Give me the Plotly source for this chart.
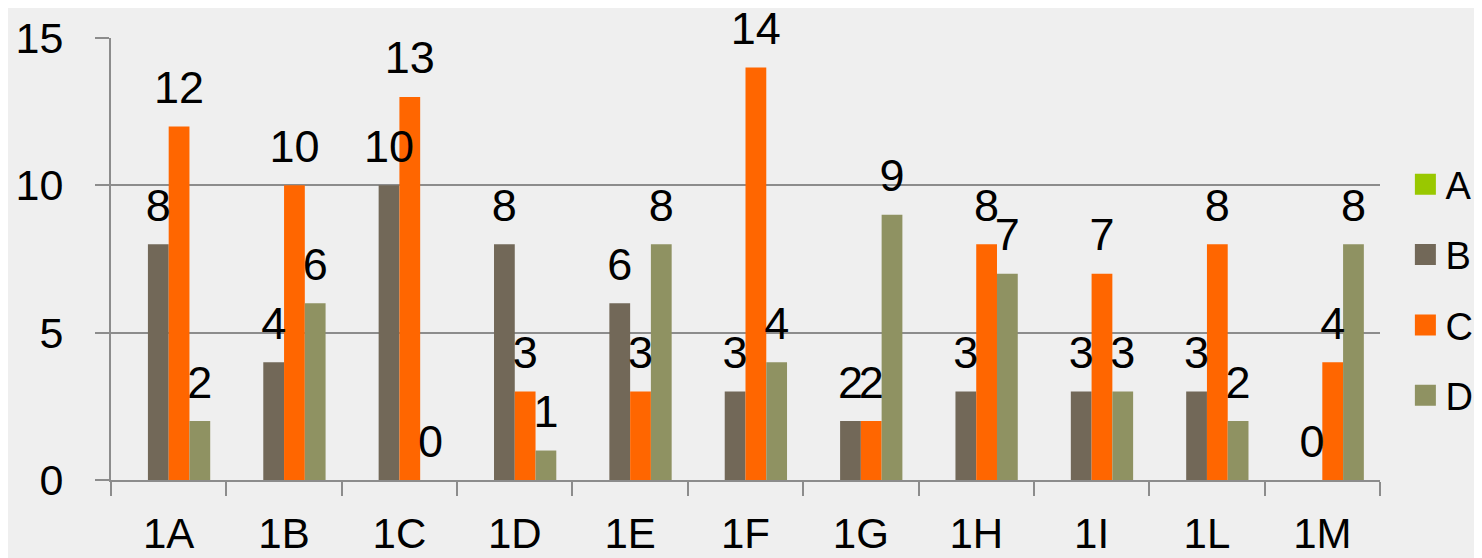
import plotly.graph_objects as go

categories = ["1A", "1B", "1C", "1D", "1E", "1F", "1G", "1H", "1I", "1L", "1M"]
series_names = ["A", "B", "C", "D"]
values_A = [None] * 11
values_B = [8, 4, 10, 8, 6, 3, 2, 3, 3, 3, 0]
values_C = [12, 10, 13, 3, 3, 14, 2, 8, 7, 8, 4]
values_D = [2, 6, 0, 1, 8, 4, 9, 7, 3, 2, 8]
colors = ["#99C800", "#726858", "#FF6600", "#8F9262"]
y_ticks = [0, 5, 10, 15]

FONT = "Liberation Sans, Arial, sans-serif"
GAP = 0.28
fig = go.Figure()
all_vals = [values_A, values_B, values_C, values_D]
for name, vals, col in zip(series_names, all_vals, colors):
    fig.add_trace(go.Bar(
        x=categories, y=vals, name=name, marker_color=col,
        marker_line_width=0, showlegend=False, hoverinfo="skip",
    ))
# value labels (grouped scatter aligned with bar slots)
for name, vals, col in zip(series_names, all_vals, colors):
    fig.add_trace(go.Scatter(
        x=categories, y=vals, mode="markers+text", name=name,
        text=[("" if v is None else str(v)) for v in vals],
        textposition="top center", cliponaxis=False,
        marker=dict(size=18, opacity=0, color=col),
        textfont=dict(size=45, color="black", family=FONT),
        showlegend=False,
    ))
# legend entries
for name, col in zip(series_names, colors):
    fig.add_trace(go.Scatter(
        x=[None], y=[None], mode="markers", name=name,
        marker=dict(symbol="square", size=16, color=col,
                    line=dict(width=5, color=col)),
        xaxis="x2", yaxis="y2", legendgroup=name,
    ))

fig.update_layout(
    width=1474, height=550,
    margin=dict(l=103, r=102, t=30, b=78, autoexpand=False),
    paper_bgcolor="#efefef", plot_bgcolor="#efefef",
    barmode="group", bargap=GAP, bargroupgap=0,
    scattermode="group", scattergap=GAP,
    font=dict(family=FONT, size=42, color="black"),
    showlegend=True,
    legend=dict(x=1.020, xanchor="left", y=0.43, yanchor="middle",
                font=dict(size=38, family=FONT), tracegroupgap=18,
                bgcolor="rgba(0,0,0,0)", itemwidth=30, itemsizing="trace"),
    xaxis=dict(showline=True, linecolor="#8c8c8c", linewidth=2,
               ticks="outside", tickson="boundaries", ticklen=14,
               tickcolor="#8c8c8c", tickwidth=2, ticklabelstandoff=16,
               showgrid=False, tickfont=dict(size=42), automargin=False),
    yaxis=dict(range=[0, 15], tickvals=y_ticks, showline=True,
               linecolor="#8c8c8c", linewidth=2, ticks="outside", ticklen=14,
               tickcolor="#8c8c8c", tickwidth=2, showgrid=True,
               gridcolor="#8c8c8c", gridwidth=2, zeroline=False,
               ticklabelstandoff=23, tickfont=dict(size=43), automargin=False),
    xaxis2=dict(overlaying="x", visible=False),
    yaxis2=dict(overlaying="y", visible=False),
)
fig.write_html("out.html")
